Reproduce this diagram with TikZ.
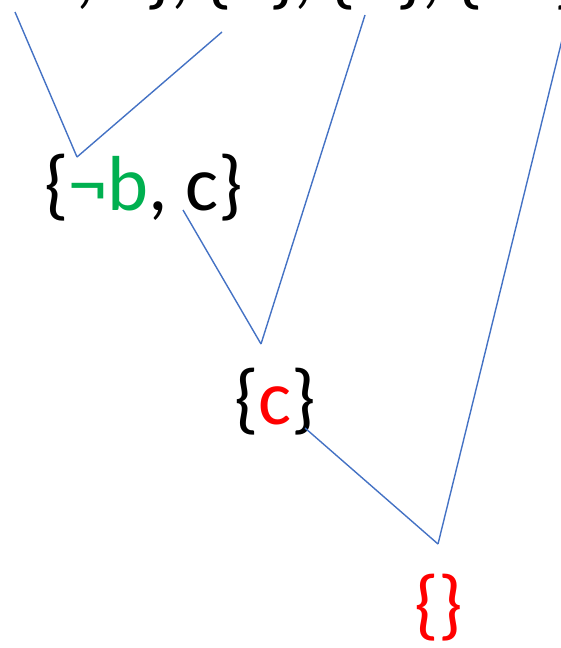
\documentclass[tikz,border=0pt]{standalone}
\usepackage{fontspec}
\setmainfont{Carlito}
\usepackage{xcolor}
\usetikzlibrary{positioning}
\definecolor{litblue}{HTML}{4472C4}
\definecolor{litgreen}{HTML}{00B050}
\definecolor{litred}{HTML}{FF0000}
\newcommand{\neglit}{\char"00AC}

\begin{document}
\begin{tikzpicture}[x=1pt, y=-1pt,
  clause/.style={inner sep=0pt, anchor=base west, font=\fontsize{78}{90}\selectfont},
  edge/.style={litblue, line width=1.4pt}]
  \useasboundingbox (0,0) rectangle (561,648);
  % input clauses (cut off at the top)
  \node[clause] (top) at (-142,-1)
    {\{\textcolor{litblue}{\neglit a}, \neglit b, c\}, \{\textcolor{litblue}{a}\}, \{\textcolor{litgreen}{b}\}, \{\textcolor{litred}{\neglit c}\}};
  % resolvents
  \node[clause] (r1) at (44,210) {\{\textcolor{litgreen}{\neglit b}, c\}};
  \node[clause] (r2) at (234,424) {\{\textcolor{litred}{c}\}};
  \node[clause] (r3) at (414,630) {\textcolor{litred}{\{\}}};
  % meeting points
  \coordinate (j1) at (77,157);
  \coordinate (j2) at (261,344);
  \coordinate (j3) at (438,544);
  % free ends under the top clauses
  \coordinate (t1) at (15,12);
  \coordinate (t2) at (222,32);
  \coordinate (t3) at (365,15);
  \coordinate (t4) at (562,40);
  \coordinate (s1) at (183,210);
  \coordinate (s2) at (305,428);
  % resolution steps
  \draw[edge] (t1) -- (j1);
  \draw[edge] (t2) -- (j1);
  \draw[edge] (t3) -- (j2);
  \draw[edge] (s1) -- (j2);
  \draw[edge] (t4) -- (j3);
  \draw[edge] (s2) -- (j3);
\end{tikzpicture}
\end{document}
